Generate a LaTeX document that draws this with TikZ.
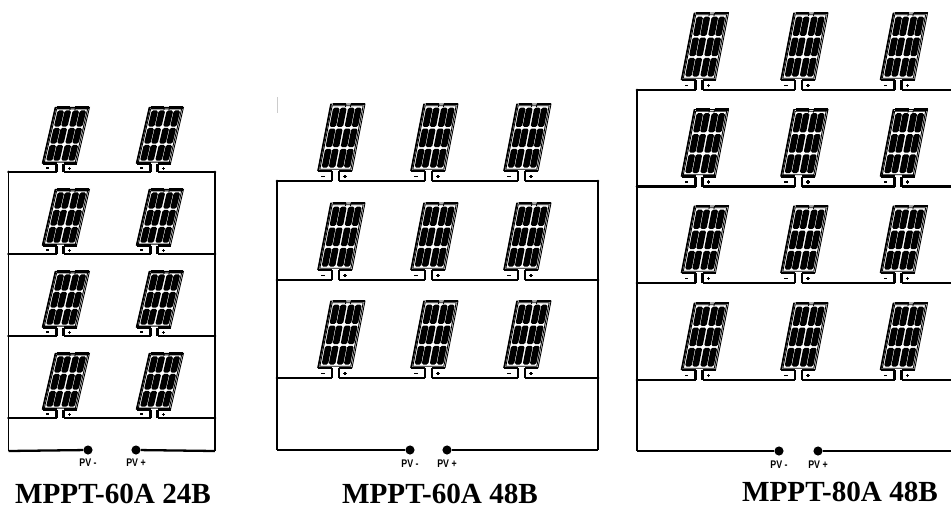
\documentclass[tikz,border=0pt]{standalone}
\usepackage{fontspec}
\setmainfont{Liberation Serif}
\newfontfamily\pvfont{Liberation Sans}
\tikzset{
  bus/.style={line width=1.3pt},
  rail/.style={line width=1.1pt},
  thinline/.style={line width=0.5pt},
  barline/.style={line width=1.5pt},
  cellfill/.style={fill=black, rounded corners=0.9pt},
  pvdot/.style={circle, fill=black, draw=none, minimum size=5.2pt, inner sep=0pt},
  jdot/.style={fill=black},
  pvlab/.style={font=\pvfont\bfseries\fontsize{6.3}{7}\selectfont, xscale=0.8, inner sep=0pt},
  titlelab/.style={font=\bfseries\fontsize{16.6}{18}\selectfont, inner sep=0pt},
  pv/.pic={
    \coordinate (-m) at (-3.5,0);
    \coordinate (-p) at (3.5,0);
    \draw[bus] (-3.5,0) -- (-3.5,10);
    \draw[bus] (3.5,0) -- (3.5,10);
    \fill (-14.5,3.6) -- (-11,3.6) -- (-11,5.4) -- (-14.5,5.4) -- cycle;
    \draw[line width=0.7pt] (7.8,4.5) -- (11.2,4.5) (9.5,2.8) -- (9.5,6.2);
    \begin{scope}[shift={(0,10)}, xslant=0.194]
      \draw[thinline] (-17.5,0) -- (-17.5,67) -- (16.5,67) -- (16.5,0);
      \draw[thinline] (-16,1.8) -- (15,1.8) -- (15,65.2) -- (-16,65.2) -- cycle;
      \draw[line width=0.9pt] (-17.5,0) -- (-17.5,67);
      \draw[barline] (-17.5,0) -- (-3.5,0) (3.5,0) -- (16.5,0);
      \draw[barline] (-16,67) -- (-2.5,67) (2.5,67) -- (16.5,67);
      \draw[thinline] (-2.5,67) -- (-2.5,64) (2.5,67) -- (2.5,64);
      \foreach \ya/\yb in {3.5/22.2,23.8/42.5,44.1/63.3}{
        \foreach \xa/\xb in {-14.6/-8.1,-7.5/-1,0.5/7,7.6/14}{
          \fill[cellfill] (\xa,\ya) -- (\xb,\ya) -- (\xb,\yb) -- (\xa,\yb) -- cycle;
        }
      }
    \end{scope}
  }
}
\begin{document}
\begin{tikzpicture}[x=0.02cm, y=0.02cm]
\useasboundingbox (0,0) rectangle (951,-508);

% ---------- Panel A: MPPT-60A 24B ----------
\foreach \r/\yb in {1/172,2/254,3/336,4/418}{
  \pic[yscale=0.84] (a\r c1) at (60,-\yb) {pv};
  \pic[yscale=0.84] (a\r c2) at (154,-\yb) {pv};
  \coordinate (aL\r) at (8.5,-\yb);
  \coordinate (aR\r) at (215,-\yb);
  \draw[bus] (aL\r) -- (a\r c1-m);
  \draw[bus] (a\r c1-p) -- (a\r c2-m);
  \draw[bus] (a\r c2-p) -- (aR\r);
  \fill[jdot] (aL\r) circle (0.8pt);
  \fill[jdot] (aR\r) circle (0.8pt);
}
\coordinate (aLb) at (8.5,-451);
\coordinate (aRb) at (215,-451);
\node[pvdot] (aM) at (88,-450) {};
\node[pvdot] (aP) at (136,-450) {};
\draw[rail] (aL1) -- (aLb);
\draw[rail] (aR1) -- (aRb);
\draw[bus] (aLb) -- (aM);
\draw[bus] (aP) -- (aRb);
\node[pvlab] (aMl) at (88,-463) {PV -};
\node[pvlab] (aPl) at (136,-463) {PV +};
\node[titlelab] (aT) at (113,-494) {MPPT-60A 24B};

% ---------- Panel B: MPPT-60A 48B ----------
\draw[gray!40, line width=0.4pt] (277,-97) -- (277,-113);
\foreach \r/\yb in {1/181,2/280,3/378}{
  \pic (b\r c1) at (335.5,-\yb) {pv};
  \pic (b\r c2) at (428.5,-\yb) {pv};
  \pic (b\r c3) at (521.5,-\yb) {pv};
  \coordinate (bL\r) at (277,-\yb);
  \coordinate (bR\r) at (598,-\yb);
  \draw[bus] (bL\r) -- (b\r c1-m);
  \draw[bus] (b\r c1-p) -- (b\r c2-m);
  \draw[bus] (b\r c2-p) -- (b\r c3-m);
  \draw[bus] (b\r c3-p) -- (bR\r);
  \fill[jdot] (bL\r) circle (0.8pt);
  \fill[jdot] (bR\r) circle (0.8pt);
}
\coordinate (bLb) at (277,-450);
\coordinate (bRb) at (598,-450);
\node[pvdot] (bM) at (410,-450) {};
\node[pvdot] (bP) at (447,-450) {};
\draw[rail] (bL1) -- (bLb);
\draw[rail] (bR1) -- (bRb);
\draw[bus] (bLb) -- (bM);
\draw[bus] (bP) -- (bRb);
\node[pvlab] (bMl) at (410,-464) {PV -};
\node[pvlab] (bPl) at (447,-464) {PV +};
\node[titlelab] (bT) at (440,-494) {MPPT-60A 48B};

% ---------- Panel C: MPPT-80A 48B ----------
\foreach \r/\yb in {1/90,2/186.5,3/283,4/380}{
  \pic (c\r c1) at (699,-\yb) {pv};
  \pic (c\r c2) at (798.5,-\yb) {pv};
  \pic (c\r c3) at (898,-\yb) {pv};
  \coordinate (cL\r) at (637,-\yb);
  \coordinate (cR\r) at (951,-\yb);
  \draw[bus] (cL\r) -- (c\r c1-m);
  \draw[bus] (c\r c1-p) -- (c\r c2-m);
  \draw[bus] (c\r c2-p) -- (c\r c3-m);
  \draw[bus] (c\r c3-p) -- (cR\r);
  \fill[jdot] (cL\r) circle (0.8pt);
}
\coordinate (cLb) at (637,-451);
\coordinate (cRb) at (951,-451);
\node[pvdot] (cM) at (779,-451) {};
\node[pvdot] (cP) at (818,-451) {};
\draw[rail] (cL1) -- (cLb);
\draw[bus] (cLb) -- (cM);
\draw[bus] (cP) -- (cRb);
\node[pvlab] (cMl) at (779,-465) {PV -};
\node[pvlab] (cPl) at (818,-465) {PV +};
\node[titlelab] (cT) at (840,-492) {MPPT-80A 48B};
\end{tikzpicture}
\end{document}
